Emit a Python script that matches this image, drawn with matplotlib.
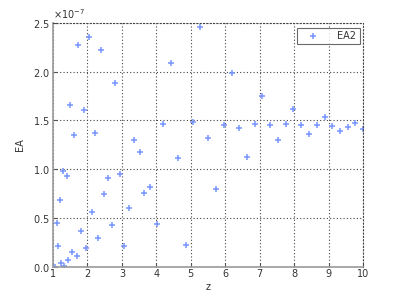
import numpy as np
import matplotlib
matplotlib.use("Agg")
import matplotlib.pyplot as plt
from matplotlib.ticker import ScalarFormatter

# ─── Data (EA values in units of 1e-7) ───────────────────────────────────────
z = [1.00, 1.05, 1.11, 1.14, 1.20, 1.23, 1.28, 1.33, 1.41, 1.44,
     1.49, 1.55, 1.62, 1.69, 1.74, 1.81, 1.89, 1.95, 2.05, 2.13,
     2.22, 2.30, 2.40, 2.49, 2.59, 2.70, 2.81, 2.95, 3.07, 3.20,
     3.35, 3.52, 3.65, 3.81, 4.01, 4.20, 4.42, 4.62, 4.85, 5.06,
     5.27, 5.51, 5.74, 5.97, 6.19, 6.41, 6.63, 6.86, 7.08, 7.31,
     7.54, 7.77, 7.98, 8.21, 8.43, 8.66, 8.89, 9.11, 9.33, 9.56,
     9.77, 9.99]
ea_scaled = [0.00, 0.00, 0.45, 0.21, 0.68, 0.035, 0.98, 0.01, 0.93, 0.07,
             1.66, 0.15, 1.35, 0.11, 2.27, 0.37, 1.61, 0.19, 2.36, 0.56,
             1.37, 0.29, 2.22, 0.75, 0.91, 0.43, 1.88, 0.95, 0.21, 0.60,
             1.30, 1.18, 0.76, 0.82, 0.44, 1.46, 2.09, 1.12, 0.22, 1.48,
             2.46, 1.32, 0.80, 1.45, 1.99, 1.42, 1.13, 1.46, 1.75, 1.45,
             1.30, 1.46, 1.62, 1.45, 1.36, 1.45, 1.54, 1.44, 1.39, 1.43,
             1.47, 1.41]
ea = np.array(ea_scaled) * 1e-7

x_ticks = list(range(1, 11))
y_ticks = [0, 0.5e-7, 1e-7, 1.5e-7, 2e-7, 2.5e-7]

# ─── Plot ────────────────────────────────────────────────────────────────────
fig = plt.figure(figsize=(4.0, 2.99), dpi=100)
ax = fig.add_axes([0.1325, 0.108, 0.775, 0.815])

ax.plot(z, ea, linestyle="none", marker="+", markersize=4.5,
        markeredgewidth=1.1, color="#7896ff", label="EA2")

ax.set_xlim(1, 10)
ax.set_ylim(0, 2.5e-7)
ax.set_xticks(x_ticks)
ax.set_yticks(y_ticks)

fmt = ScalarFormatter(useMathText=True)
fmt.set_powerlimits((0, 0))
ax.yaxis.set_major_formatter(fmt)
ax.yaxis.get_offset_text().set_fontsize(7)
ax.yaxis.get_offset_text().set_color("#333333")

dots = (0, (1, 2))
ax.grid(True, linestyle=dots, color="#444444", linewidth=0.8)
ax.set_axisbelow(True)
for side in ("top", "right"):
    ax.spines[side].set_linestyle(dots)
    ax.spines[side].set_color("#444444")
    ax.spines[side].set_linewidth(0.8)
for side in ("left", "bottom"):
    ax.spines[side].set_color("#999999")
    ax.spines[side].set_linewidth(1.2)

ax.tick_params(direction="in", length=3, width=0.8, color="#555555",
               labelsize=7, labelcolor="#333333", pad=2)

ax.set_xlabel("z", fontsize=7, color="#333333", labelpad=2)
ax.set_ylabel("EA", fontsize=7, color="#333333", labelpad=6)

leg = ax.legend(loc="upper right", fontsize=7, frameon=True, fancybox=False,
                borderpad=0.35, handletextpad=1.2, handlelength=2.6,
                borderaxespad=0, bbox_to_anchor=(0.99, 0.981))
leg.get_frame().set_edgecolor("#444444")
leg.get_frame().set_linewidth(0.8)
for t in leg.get_texts():
    t.set_color("#333333")

fig.savefig("out.png", dpi=100)
